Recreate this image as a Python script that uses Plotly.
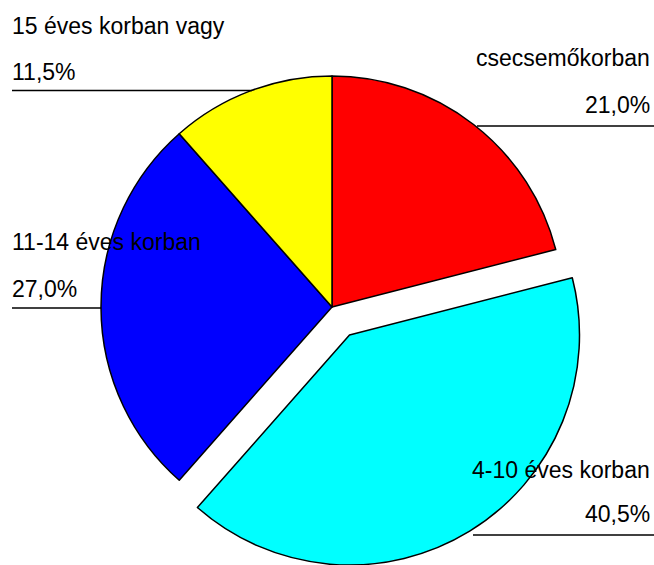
import plotly.graph_objects as go

# korcsoportok (12 órától, óramutató járásával megegyezően)
labels = ['csecsemőkorban', '4-10 éves korban', '11-14 éves korban', '15 éves korban vagy']
values = [21.0, 40.5, 27.0, 11.5]
colors = ['#FF0000', '#00FFFF', '#0000FF', '#FFFF00']
pulled = '4-10 éves korban'

W, H = 654, 565
FONT = 'Liberation Sans, Arial, sans-serif'


def dom(cx, cy, r):
    return dict(x=[(cx - r) / W, (cx + r) / W], y=[1 - (cy + r) / H, 1 - (cy - r) / H])


clear = 'rgba(0,0,0,0)'
fig = go.Figure()
# main pie, the pulled slice left empty
fig.add_trace(go.Pie(
    labels=labels, values=values, sort=False, direction='clockwise', rotation=0,
    marker=dict(colors=[clear if l == pulled else c for l, c in zip(labels, colors)],
                line=dict(color='black', width=[0 if l == pulled else 1.5 for l in labels])),
    textinfo='none', hoverinfo='skip', showlegend=False, domain=dom(332, 307, 231)))
# pulled-out slice, drawn as its own pie shifted along the slice's mid angle
fig.add_trace(go.Pie(
    labels=labels, values=values, sort=False, direction='clockwise', rotation=0,
    marker=dict(colors=[c if l == pulled else clear for l, c in zip(labels, colors)],
                line=dict(color='black', width=[1.5 if l == pulled else 0 for l in labels])),
    textinfo='none', hoverinfo='skip', showlegend=False, domain=dom(349.5, 335, 230)))

# label placement: (x, name y, pct y, line y, line x0, line x1, anchor)
place = {
    'csecsemőkorban': (652, 58, 105, 126, 477, 654, 'right'),
    '4-10 éves korban': (652, 470, 514, 535, 473, 654, 'right'),
    '11-14 éves korban': (10, 242, 289, 308, 12, 101, 'left'),
    '15 éves korban vagy': (10, 26, 72, 90.5, 12, 252, 'left'),
}

for l, v in zip(labels, values):
    x, ny, py, ly, x0, x1, anc = place[l]
    for txt, yy in ((l, ny), (f'{v:.1f}%'.replace('.', ','), py)):
        fig.add_annotation(x=x / W, y=1 - yy / H, xref='paper', yref='paper', text=txt,
                           showarrow=False, xanchor=anc, yanchor='middle',
                           font=dict(family=FONT, size=23, color='black'))
    fig.add_shape(type='line', xref='paper', yref='paper', x0=x0 / W, x1=x1 / W,
                  y0=1 - ly / H, y1=1 - ly / H, line=dict(color='black', width=1.5))

fig.update_layout(width=W, height=H, margin=dict(l=0, r=0, t=0, b=0),
                  paper_bgcolor='white', plot_bgcolor='white', showlegend=False)
fig.write_html('out.html', config={'displayModeBar': False},
               post_script="document.body.style.margin='0';document.body.style.overflow='hidden';")
